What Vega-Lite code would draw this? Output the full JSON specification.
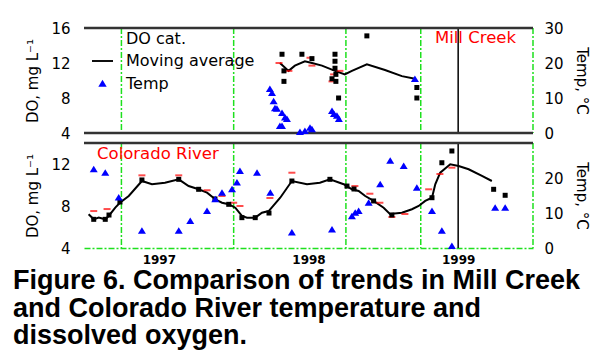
{
  "$schema": "https://vega.github.io/schema/vega-lite/v6.json",
  "background": "white",
  "padding": {"left": 12, "top": 21, "right": 5, "bottom": 5},
  "bounds": "flush",
  "spacing": 10,
  "title": {
    "text": ["Figure 6. Comparison of trends in Mill Creek", "and Colorado River temperature and", "dissolved oxygen."],
    "orient": "bottom",
    "anchor": "start",
    "font": "Liberation Sans",
    "fontSize": 27,
    "fontWeight": "bold",
    "lineHeight": 27.5,
    "color": "black",
    "offset": 3,
    "dx": -13
  },
  "datasets": {
    "green": [{"t": 1996.75}, {"t": 1997.5}, {"t": 1998.25}, {"t": 1998.75}, {"t": 1999.5}],
    "mc_do": [
      {"t": 1997.823, "do": 13.0}, {"t": 1997.836, "do": 11.1}, {"t": 1997.836, "do": 9.9},
      {"t": 1997.956, "do": 13.0}, {"t": 1998.023, "do": 12.5}, {"t": 1998.157, "do": 10.2},
      {"t": 1998.177, "do": 13.0}, {"t": 1998.177, "do": 12.2}, {"t": 1998.177, "do": 11.4},
      {"t": 1998.183, "do": 10.7}, {"t": 1998.183, "do": 9.9}, {"t": 1998.201, "do": 8.0},
      {"t": 1998.390, "do": 15.1}, {"t": 1998.724, "do": 9.2}, {"t": 1998.724, "do": 8.0}
    ],
    "mc_ma": [
      {"t": 1997.809, "do": 12.0}, {"t": 1997.867, "do": 11.1}, {"t": 1997.909, "do": 11.7},
      {"t": 1997.976, "do": 12.2}, {"t": 1998.023, "do": 12.0}, {"t": 1998.090, "do": 11.7},
      {"t": 1998.177, "do": 11.1}, {"t": 1998.243, "do": 10.7}, {"t": 1998.290, "do": 11.1},
      {"t": 1998.390, "do": 11.85}, {"t": 1998.511, "do": 11.2}, {"t": 1998.624, "do": 10.5},
      {"t": 1998.711, "do": 10.2}
    ],
    "mc_red": [
      {"t": 1997.803, "v": 12.0}, {"t": 1997.869, "v": 11.1}, {"t": 1998.010, "v": 12.6},
      {"t": 1998.023, "v": 11.7}, {"t": 1998.168, "v": 10.7}, {"t": 1998.210, "v": 11.1},
      {"t": 1998.157, "v": 9.9}
    ],
    "mc_temp": [
      {"t": 1997.742, "temp": 12.6}, {"t": 1997.756, "temp": 11.4}, {"t": 1997.767, "temp": 9.1},
      {"t": 1997.776, "temp": 7.1}, {"t": 1997.789, "temp": 6.9}, {"t": 1997.823, "temp": 5.7},
      {"t": 1997.843, "temp": 4.4}, {"t": 1997.856, "temp": 4.0}, {"t": 1997.809, "temp": 2.0},
      {"t": 1997.823, "temp": 2.0}, {"t": 1997.943, "temp": 0.3}, {"t": 1997.976, "temp": 0.6},
      {"t": 1998.010, "temp": 1.5}, {"t": 1998.023, "temp": 1.1}, {"t": 1998.157, "temp": 6.3},
      {"t": 1998.170, "temp": 5.4}, {"t": 1998.190, "temp": 4.9}, {"t": 1998.203, "temp": 4.0},
      {"t": 1998.711, "temp": 15.4}
    ],
    "cr_do": [
      {"t": 1996.565, "do": 6.73}, {"t": 1996.642, "do": 6.73}, {"t": 1996.667, "do": 7.14},
      {"t": 1996.740, "do": 8.38}, {"t": 1996.887, "do": 10.48}, {"t": 1997.133, "do": 10.54},
      {"t": 1997.266, "do": 9.59}, {"t": 1997.375, "do": 8.67}, {"t": 1997.467, "do": 8.16},
      {"t": 1997.555, "do": 6.89}, {"t": 1997.644, "do": 6.89}, {"t": 1997.736, "do": 7.33},
      {"t": 1997.889, "do": 10.38}, {"t": 1998.143, "do": 10.54}, {"t": 1998.257, "do": 9.90},
      {"t": 1998.304, "do": 9.62}, {"t": 1998.435, "do": 8.48}, {"t": 1998.557, "do": 7.14},
      {"t": 1998.825, "do": 8.79}, {"t": 1998.891, "do": 12.12}, {"t": 1998.958, "do": 13.24},
      {"t": 1999.237, "do": 9.59}, {"t": 1999.314, "do": 9.02}
    ],
    "cr_ma": [
      {"t": 1996.531, "do": 7.21}, {"t": 1996.565, "do": 6.73}, {"t": 1996.598, "do": 6.89},
      {"t": 1996.642, "do": 6.73}, {"t": 1996.665, "do": 7.05}, {"t": 1996.709, "do": 7.84},
      {"t": 1996.740, "do": 8.31}, {"t": 1996.799, "do": 8.95}, {"t": 1996.887, "do": 10.38},
      {"t": 1996.954, "do": 10.07}, {"t": 1997.041, "do": 10.22}, {"t": 1997.133, "do": 10.54},
      {"t": 1997.199, "do": 9.90}, {"t": 1997.266, "do": 9.59}, {"t": 1997.322, "do": 9.27},
      {"t": 1997.377, "do": 8.64}, {"t": 1997.422, "do": 8.31}, {"t": 1997.467, "do": 8.16},
      {"t": 1997.511, "do": 7.84}, {"t": 1997.555, "do": 7.05}, {"t": 1997.589, "do": 6.89},
      {"t": 1997.644, "do": 6.89}, {"t": 1997.689, "do": 7.36}, {"t": 1997.734, "do": 7.52},
      {"t": 1997.811, "do": 8.79}, {"t": 1997.889, "do": 10.38}, {"t": 1997.990, "do": 10.07},
      {"t": 1998.076, "do": 10.22}, {"t": 1998.143, "do": 10.54}, {"t": 1998.235, "do": 10.07},
      {"t": 1998.290, "do": 9.59}, {"t": 1998.335, "do": 9.43}, {"t": 1998.379, "do": 8.95},
      {"t": 1998.435, "do": 8.48}, {"t": 1998.502, "do": 7.84}, {"t": 1998.544, "do": 7.24},
      {"t": 1998.624, "do": 7.36}, {"t": 1998.691, "do": 7.69}, {"t": 1998.736, "do": 8.0},
      {"t": 1998.780, "do": 8.48}, {"t": 1998.825, "do": 8.79}, {"t": 1998.847, "do": 10.07},
      {"t": 1998.880, "do": 11.17}, {"t": 1998.947, "do": 11.97}, {"t": 1999.003, "do": 11.81},
      {"t": 1999.070, "do": 11.50}, {"t": 1999.159, "do": 10.86}, {"t": 1999.225, "do": 10.38}
    ],
    "cr_red": [
      {"t": 1996.565, "v": 7.52}, {"t": 1996.654, "v": 7.71}, {"t": 1996.887, "v": 10.92},
      {"t": 1997.133, "v": 10.92}, {"t": 1997.322, "v": 9.50}, {"t": 1997.422, "v": 8.95},
      {"t": 1997.500, "v": 8.31}, {"t": 1997.542, "v": 8.0}, {"t": 1997.742, "v": 8.76},
      {"t": 1997.889, "v": 11.17}, {"t": 1998.310, "v": 9.90}, {"t": 1998.410, "v": 9.17},
      {"t": 1998.477, "v": 8.31}, {"t": 1998.557, "v": 6.95}, {"t": 1998.644, "v": 7.24},
      {"t": 1998.803, "v": 9.59}, {"t": 1998.878, "v": 11.05}, {"t": 1998.958, "v": 11.65}
    ],
    "cr_temp": [
      {"t": 1996.565, "temp": 22.5}, {"t": 1996.642, "temp": 21.5}, {"t": 1996.732, "temp": 14.4},
      {"t": 1996.887, "temp": 4.9}, {"t": 1997.133, "temp": 4.9}, {"t": 1997.210, "temp": 7.7},
      {"t": 1997.322, "temp": 10.6}, {"t": 1997.377, "temp": 13.9}, {"t": 1997.422, "temp": 15.8},
      {"t": 1997.489, "temp": 16.8}, {"t": 1997.522, "temp": 18.7}, {"t": 1997.542, "temp": 22.0},
      {"t": 1997.656, "temp": 21.5}, {"t": 1997.745, "temp": 15.8}, {"t": 1997.889, "temp": 4.4},
      {"t": 1998.157, "temp": 5.3}, {"t": 1998.290, "temp": 9.1}, {"t": 1998.312, "temp": 10.1},
      {"t": 1998.335, "temp": 10.6}, {"t": 1998.402, "temp": 12.9}, {"t": 1998.479, "temp": 18.2},
      {"t": 1998.546, "temp": 24.9}, {"t": 1998.636, "temp": 23.4}, {"t": 1998.724, "temp": 17.2},
      {"t": 1998.825, "temp": 10.6}, {"t": 1998.891, "temp": 4.9}, {"t": 1998.958, "temp": 0.6},
      {"t": 1999.247, "temp": 11.5}, {"t": 1999.314, "temp": 11.5}
    ]
  },
  "vconcat": [
    {
      "width": 449,
      "height": 105,
      "layer": [
        {
          "data": {"name": "green"},
          "mark": {"type": "rule", "color": "#1ee01e", "strokeWidth": 1.5, "strokeDash": [6, 2, 2, 2]},
          "encoding": {"x": {"field": "t", "type": "quantitative", "scale": {"domain": [1996.5, 1999.5], "nice": false, "zero": false}, "axis": null}}
        },
        {
          "data": {"values": [{}]},
          "mark": {"type": "rule", "color": "black", "strokeWidth": 1.5},
          "encoding": {"x": {"datum": 1999, "type": "quantitative", "scale": {"domain": [1996.5, 1999.5], "nice": false, "zero": false}, "axis": null}}
        },
        {
          "layer": [
            {
              "data": {"values": [{}]},
              "mark": {"type": "rule", "color": "#333333", "strokeWidth": 2.5},
              "encoding": {
                "y": {"datum": 16, "type": "quantitative", "scale": {"domain": [4, 16], "nice": false, "zero": false},
                      "axis": {"values": [4, 8, 12, 16], "title": "DO, mg L⁻¹"}}
              }
            },
            {
              "data": {"values": [{}]},
              "mark": {"type": "rule", "color": "#333333", "strokeWidth": 2.5},
              "encoding": {
                "y": {"datum": 4, "type": "quantitative", "scale": {"domain": [4, 16], "nice": false, "zero": false},
                      "axis": {"values": [4, 8, 12, 16], "title": "DO, mg L⁻¹"}}
              }
            },
            {
              "data": {"name": "mc_ma"},
              "mark": {"type": "line", "strokeWidth": 2, "color": "black"},
              "encoding": {
                "x": {"field": "t", "type": "quantitative", "scale": {"domain": [1996.5, 1999.5], "nice": false, "zero": false}, "axis": null},
                "y": {"field": "do", "type": "quantitative", "scale": {"domain": [4, 16], "nice": false, "zero": false},
                      "axis": {"values": [4, 8, 12, 16], "title": "DO, mg L⁻¹"}}
              }
            },
            {
              "data": {"name": "mc_red"},
              "mark": {"type": "tick", "orient": "horizontal", "color": "red", "thickness": 2, "size": 7},
              "encoding": {
                "x": {"field": "t", "type": "quantitative", "scale": {"domain": [1996.5, 1999.5], "nice": false, "zero": false}, "axis": null},
                "y": {"field": "v", "type": "quantitative", "scale": {"domain": [4, 16], "nice": false, "zero": false},
                      "axis": {"values": [4, 8, 12, 16], "title": "DO, mg L⁻¹"}}
              }
            },
            {
              "data": {"name": "mc_do"},
              "mark": {"type": "point", "shape": "square", "filled": true, "size": 25, "opacity": 1},
              "encoding": {
                "x": {"field": "t", "type": "quantitative", "scale": {"domain": [1996.5, 1999.5], "nice": false, "zero": false}, "axis": null},
                "y": {"field": "do", "type": "quantitative", "scale": {"domain": [4, 16], "nice": false, "zero": false},
                      "axis": {"values": [4, 8, 12, 16], "title": "DO, mg L⁻¹"}},
                "color": {"datum": "DO cat.", "type": "nominal",
                          "scale": {"domain": ["DO cat.", "Moving average", "Temp"], "range": ["black", "black", "blue"]},
                          "legend": {"orient": "none", "legendX": 8, "legendY": 0, "title": null,
                                     "symbolSize": 441, "labelOffset": 13, "rowPadding": 3.5, "symbolStrokeWidth": 0,
                                     "labelFont": "DejaVu Sans", "labelFontSize": 16, "labelColor": "black", "padding": 0}}
              }
            },
            {
              "data": {"values": [{}]},
              "mark": {"type": "text", "align": "left", "baseline": "middle", "color": "red", "font": "DejaVu Sans", "fontSize": 16.5},
              "encoding": {
                "x": {"datum": 1998.845, "type": "quantitative", "scale": {"domain": [1996.5, 1999.5], "nice": false, "zero": false}, "axis": null},
                "y": {"datum": 14.9, "type": "quantitative", "scale": {"domain": [4, 16], "nice": false, "zero": false},
                      "axis": {"values": [4, 8, 12, 16], "title": "DO, mg L⁻¹"}},
                "text": {"value": "Mill Creek"}
              }
            }
          ]
        },
        {
          "data": {"name": "mc_temp"},
          "mark": {"type": "point", "filled": true, "size": 400, "opacity": 1},
          "encoding": {
            "x": {"field": "t", "type": "quantitative", "scale": {"domain": [1996.5, 1999.5], "nice": false, "zero": false}, "axis": null},
            "y": {"field": "temp", "type": "quantitative", "scale": {"domain": [0, 30], "nice": false, "zero": false},
                  "axis": {"orient": "right", "values": [0, 10, 20, 30], "title": "Temp, °C"}},
            "color": {"datum": "Temp", "type": "nominal",
                      "legend": {"orient": "none", "legendX": 8, "legendY": 0, "title": null,
                                 "symbolSize": 441, "labelOffset": 13, "rowPadding": 3.5, "symbolStrokeWidth": 0,
                                 "labelFont": "DejaVu Sans", "labelFontSize": 16, "labelColor": "black", "padding": 0}},
            "shape": {"datum": "Temp", "type": "nominal",
                      "scale": {"domain": ["DO cat.", "Moving average", "Temp"],
                                "range": ["M0,0L0,0", "M-1,-0.09L1,-0.09L1,0.09L-1,0.09Z", "M0,-0.35L0.4,0.3L-0.4,0.3Z"]},
                      "legend": {"orient": "none", "legendX": 8, "legendY": 0, "title": null,
                                 "symbolSize": 441, "labelOffset": 13, "rowPadding": 3.5, "symbolStrokeWidth": 0,
                                 "labelFont": "DejaVu Sans", "labelFontSize": 16, "labelColor": "black", "padding": 0}}
          }
        }
      ],
      "resolve": {"scale": {"y": "independent"}}
    },
    {
      "width": 449,
      "height": 105,
      "layer": [
        {
          "data": {"name": "green"},
          "mark": {"type": "rule", "color": "#1ee01e", "strokeWidth": 1.5, "strokeDash": [6, 2, 2, 2]},
          "encoding": {"x": {"field": "t", "type": "quantitative", "scale": {"domain": [1996.5, 1999.5], "nice": false, "zero": false},
                             "axis": {"values": [1997, 1998, 1999], "format": "d", "title": null,
                                      "labelFontSize": 12, "labelFontWeight": "bold", "labelPadding": 6,
                                      "domain": true, "domainColor": "#1ee01e", "domainWidth": 1.5, "domainDash": [6, 2, 2, 2]}}}
        },
        {
          "data": {"values": [{}]},
          "mark": {"type": "rule", "color": "black", "strokeWidth": 1.5},
          "encoding": {"x": {"datum": 1999, "type": "quantitative", "scale": {"domain": [1996.5, 1999.5], "nice": false, "zero": false}}}
        },
        {
          "layer": [
            {
              "data": {"values": [{}]},
              "mark": {"type": "rule", "color": "#333333", "strokeWidth": 2.5},
              "encoding": {
                "y": {"datum": 14, "type": "quantitative", "scale": {"domain": [4, 14], "nice": false, "zero": false},
                      "axis": {"values": [4, 8, 12], "title": "DO, mg L⁻¹"}}
              }
            },
            {
              "data": {"name": "cr_ma"},
              "mark": {"type": "line", "strokeWidth": 2, "color": "black"},
              "encoding": {
                "x": {"field": "t", "type": "quantitative", "scale": {"domain": [1996.5, 1999.5], "nice": false, "zero": false}},
                "y": {"field": "do", "type": "quantitative", "scale": {"domain": [4, 14], "nice": false, "zero": false},
                      "axis": {"values": [4, 8, 12], "title": "DO, mg L⁻¹"}}
              }
            },
            {
              "data": {"name": "cr_red"},
              "mark": {"type": "tick", "orient": "horizontal", "color": "red", "thickness": 2, "size": 7},
              "encoding": {
                "x": {"field": "t", "type": "quantitative", "scale": {"domain": [1996.5, 1999.5], "nice": false, "zero": false}},
                "y": {"field": "v", "type": "quantitative", "scale": {"domain": [4, 14], "nice": false, "zero": false},
                      "axis": {"values": [4, 8, 12], "title": "DO, mg L⁻¹"}}
              }
            },
            {
              "data": {"name": "cr_do"},
              "mark": {"type": "point", "shape": "square", "filled": true, "size": 25, "opacity": 1, "color": "black"},
              "encoding": {
                "x": {"field": "t", "type": "quantitative", "scale": {"domain": [1996.5, 1999.5], "nice": false, "zero": false}},
                "y": {"field": "do", "type": "quantitative", "scale": {"domain": [4, 14], "nice": false, "zero": false},
                      "axis": {"values": [4, 8, 12], "title": "DO, mg L⁻¹"}}
              }
            },
            {
              "data": {"values": [{}]},
              "mark": {"type": "text", "align": "left", "baseline": "middle", "color": "red", "font": "DejaVu Sans", "fontSize": 16.5},
              "encoding": {
                "x": {"datum": 1996.587, "type": "quantitative", "scale": {"domain": [1996.5, 1999.5], "nice": false, "zero": false}},
                "y": {"datum": 12.95, "type": "quantitative", "scale": {"domain": [4, 14], "nice": false, "zero": false},
                      "axis": {"values": [4, 8, 12], "title": "DO, mg L⁻¹"}},
                "text": {"value": "Colorado River"}
              }
            }
          ]
        },
        {
          "data": {"name": "cr_temp"},
          "mark": {"type": "point", "filled": true, "size": 400, "opacity": 1, "color": "blue", "shape": "M0,-0.35L0.4,0.3L-0.4,0.3Z"},
          "encoding": {
            "x": {"field": "t", "type": "quantitative", "scale": {"domain": [1996.5, 1999.5], "nice": false, "zero": false}},
            "y": {"field": "temp", "type": "quantitative", "scale": {"domain": [0, 30], "nice": false, "zero": false},
                  "axis": {"orient": "right", "values": [0, 10, 20], "title": "Temp, °C"}}
          }
        }
      ],
      "resolve": {"scale": {"y": "independent"}}
    }
  ],
  "config": {
    "view": {"stroke": null},
    "axis": {"grid": false, "domain": false, "ticks": false, "labelFont": "DejaVu Sans", "labelFontSize": 15,
             "labelColor": "black", "titleFont": "DejaVu Sans", "titleFontSize": 15, "titleFontWeight": "normal",
             "titleColor": "black"},
    "axisLeft": {"labelPadding": 14, "titlePadding": 10},
    "axisRight": {"labelPadding": 11, "titlePadding": 10}
  }
}
